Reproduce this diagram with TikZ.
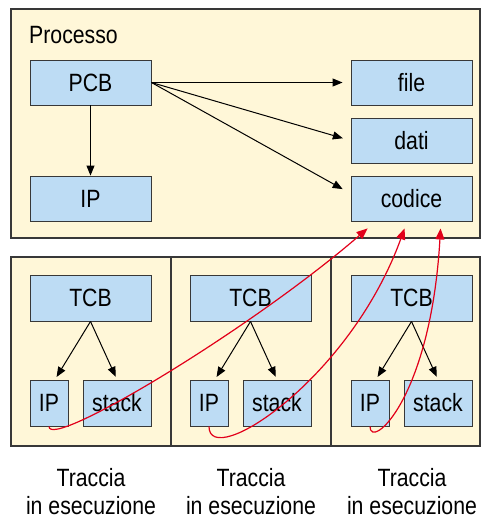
\documentclass[tikz,border=0pt]{standalone}
\usepackage{fontspec}
\setmainfont{Liberation Sans}[FakeStretch=0.85]
\usetikzlibrary{arrows.meta}
\definecolor{crema}{HTML}{FFF7D8}
\definecolor{celeste}{HTML}{BDDCF4}
\definecolor{rosso}{HTML}{E2001A}
\definecolor{bordo}{HTML}{383838}
\newcommand{\sfondo}{crema}
\newcommand{\blocco}{celeste}
\tikzset{
    Cornice/.style = {draw=bordo, fill=\sfondo, line width=1.3pt, inner sep=0pt},
    Blocco/.style = {draw=bordo, fill=\blocco, line width=0.9pt, inner sep=0pt,
        minimum height=45pt, font=\fontsize{25}{28}\selectfont},
    Freccia/.style = {-{Triangle[length=10pt,width=8pt]}, line width=1pt},
    Legame/.style = {draw=rosso, line width=1.2pt, -{Triangle[length=11pt,width=9pt]}},
    Dicitura/.style = {align=center, inner sep=0pt, font=\fontsize{25}{28}\selectfont}
}

\begin{document}
\begin{tikzpicture}[x=1pt,y=-1pt]
        \useasboundingbox (0,0) rectangle (481,515);
        % processo
        \node[Cornice, minimum width=469pt, minimum height=229pt] (processo) at (245.5,123.5) {};
        \node[anchor=west, inner sep=0pt, font=\fontsize{25}{28}\selectfont] (titolo) at (29,35) {Processo};
        \node[Blocco, minimum width=121pt] (PCB) at (90.5,82.5) {PCB};
        \node[Blocco, minimum width=121pt] (IP) at (90.5,198.5) {IP};
        \node[Blocco, minimum width=121pt] (file) at (411.5,82.5) {file};
        \node[Blocco, minimum width=121pt] (dati) at (411.5,140.5) {dati};
        \node[Blocco, minimum width=121pt] (codice) at (411.5,198.5) {codice};
        \draw[Freccia] (PCB) -- (IP);
        \draw[Freccia, shorten >=8pt] (PCB.east) -- (file.west);
        \draw[Freccia, shorten >=8pt] (PCB.east) -- (dati.west);
        \draw[Freccia, shorten >=9pt] (PCB.east) -- ([yshift=5pt]codice.west);
        % tracce
        \node[Cornice, minimum width=160pt, minimum height=189pt] (T1) at (91,351.5) {};
        \node[Cornice, minimum width=160pt, minimum height=189pt] (T2) at (251,351.5) {};
        \node[Cornice, minimum width=149pt, minimum height=189pt] (T3) at (405.5,351.5) {};
        \foreach \i/\x in {1/0, 2/160, 3/321} {
            \node[Blocco, minimum width=121pt, minimum height=46pt] (TCB\i) at (90.5+\x,298) {TCB};
            \node[Blocco, minimum width=38pt, minimum height=46pt] (ip\i) at (49+\x,403) {IP};
            \node[Blocco, minimum width=68pt, minimum height=46pt] (stack\i) at (117+\x,403) {stack};
            \draw[Freccia, shorten >=3pt] (TCB\i.south) -- ([xshift=6pt]ip\i.north);
            \draw[Freccia, shorten >=3pt] (TCB\i.south) -- (stack\i.north);
            \node[Dicitura] (nome\i) at (91+\x,492) {Traccia\\in esecuzione};
        }
        % legami con il codice
        \draw[Legame] (ip1.south) .. controls +(0,24) and +(-118,102) .. ([xshift=17pt,yshift=-7pt]codice.south west);
        \draw[Legame] (ip2.south) .. controls +(0,44) and +(-55,152) .. ([xshift=54pt,yshift=-7pt]codice.south west);
        \draw[Legame] (ip3.south) .. controls +(0,24) and +(-10,172) .. ([xshift=90pt,yshift=-7pt]codice.south west);
    \end{tikzpicture}
\end{document}
